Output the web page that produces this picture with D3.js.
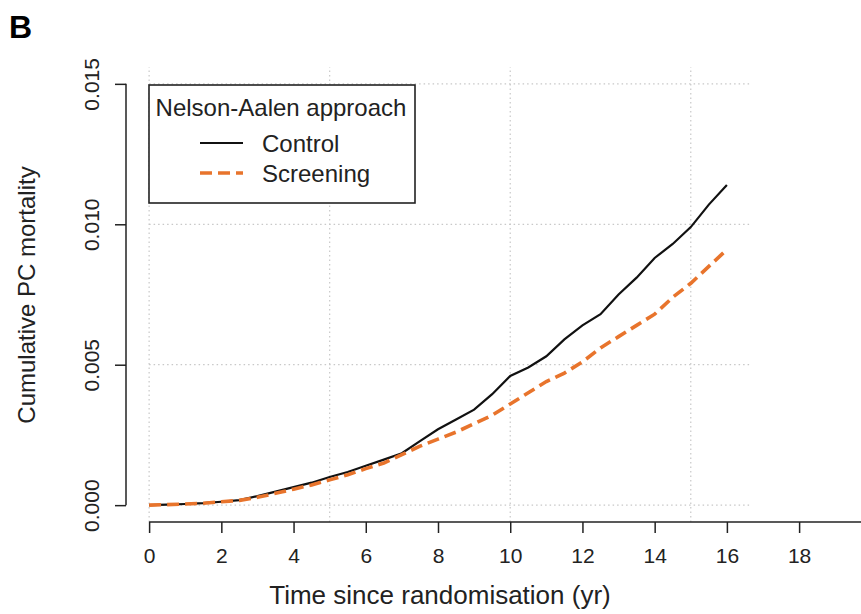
<!DOCTYPE html>
<html>
<head>
<meta charset="utf-8">
<script src="https://cdn.jsdelivr.net/npm/d3@7.9.0/dist/d3.min.js"></script>
<style>
  body { margin: 0; background: #fff; }
  svg { display: block; font-family: "Liberation Sans", Arial, sans-serif; }
</style>
</head>
<body>
<svg id="chart" width="861" height="614"></svg>
<script>
// years since randomisation, read every half year
const years = d3.range(0, 16.5, 0.5);

const controlValues = [
  0, 0.00002, 0.00004, 0.00007, 0.00012, 0.00018, 0.00032, 0.00048,
  0.00064, 0.0008, 0.001, 0.00118, 0.0014, 0.00162, 0.00185, 0.00228,
  0.0027, 0.00305, 0.0034, 0.00395, 0.0046, 0.0049, 0.0053, 0.0059,
  0.0064, 0.0068, 0.0075, 0.0081, 0.0088, 0.0093, 0.0099, 0.0107, 0.0114
];

const screeningValues = [
  0, 0.00002, 0.00004, 0.00007, 0.00012, 0.00017, 0.00028, 0.00042,
  0.00057, 0.00072, 0.0009, 0.00108, 0.0013, 0.0015, 0.0018, 0.0021,
  0.00235, 0.0026, 0.0029, 0.0032, 0.0036, 0.004, 0.0044, 0.0047,
  0.0051, 0.0056, 0.006, 0.0064, 0.0068, 0.0074, 0.0079, 0.0085, 0.0091
];

const xTicks = [0, 2, 4, 6, 8, 10, 12, 14, 16, 18];
const yTicks = [0, 0.005, 0.010, 0.015];
const xGrid = [0, 5, 10, 15];
const seriesNames = ['Control', 'Screening'];

const orange = '#e8742c';
const svg = d3.select('#chart');

// plot region like R: limits padded by 4%
const xScale = d3.scaleLinear().domain([-0.64, 16.64]).range([126, 750]);
const yScale = d3.scaleLinear().domain([-0.0006, 0.0156]).range([522, 67]);

// dotted grid
const grid = svg.append('g')
  .attr('stroke', '#c8c8c8')
  .attr('stroke-width', 1.2)
  .attr('stroke-dasharray', '1.5,3');

grid.selectAll('.vg')
  .data(xGrid)
  .join('line')
  .attr('x1', d => xScale(d))
  .attr('x2', d => xScale(d))
  .attr('y1', yScale.range()[0])
  .attr('y2', yScale.range()[1]);

grid.selectAll('.hg')
  .data(yTicks)
  .join('line')
  .attr('x1', xScale(0))
  .attr('x2', xScale.range()[1])
  .attr('y1', d => yScale(d))
  .attr('y2', d => yScale(d));

// curves
const line = d3.line()
  .x((d, i) => xScale(years[i]))
  .y(d => yScale(d));

svg.append('path')
  .datum(controlValues)
  .attr('fill', 'none')
  .attr('stroke', '#111')
  .attr('stroke-width', 2.2)
  .attr('d', line);

svg.append('path')
  .datum(screeningValues)
  .attr('fill', 'none')
  .attr('stroke', orange)
  .attr('stroke-width', 3.6)
  .attr('stroke-dasharray', '12,6')
  .attr('d', line);

// x axis
const xAxis = svg.append('g')
  .attr('transform', `translate(0, ${yScale.range()[0]})`)
  .call(d3.axisBottom(xScale).tickValues(xTicks).tickSize(11).tickPadding(15).tickSizeOuter(0));
xAxis.select('.domain').remove();
xAxis.append('line')
  .attr('x1', xScale(0)).attr('x2', 861)
  .attr('stroke', '#222').attr('stroke-width', 1.5);
xAxis.selectAll('.tick line').attr('stroke', '#222').attr('stroke-width', 1.5);
xAxis.selectAll('.tick text')
  .attr('fill', '#222')
  .style('font-size', '21px')
  .style('font-family', '"Liberation Sans", Arial, sans-serif');

// y axis
const yAxis = svg.append('g')
  .attr('transform', `translate(${xScale.range()[0]}, 0)`)
  .call(d3.axisLeft(yScale).tickValues(yTicks).tickSize(11).tickFormat(d3.format('.3f')).tickSizeOuter(0));
yAxis.select('.domain').remove();
yAxis.append('line')
  .attr('y1', yScale(0)).attr('y2', yScale(0.015))
  .attr('stroke', '#222').attr('stroke-width', 1.5);
yAxis.selectAll('.tick line').attr('stroke', '#222').attr('stroke-width', 1.5);
yAxis.selectAll('.tick text')
  .attr('fill', '#222')
  .attr('x', null).attr('dy', null)
  .attr('text-anchor', 'middle')
  .attr('transform', 'translate(-27, 0) rotate(-90)')
  .style('font-size', '21px')
  .style('font-family', '"Liberation Sans", Arial, sans-serif');

// axis titles
svg.append('text')
  .attr('x', 440).attr('y', 604)
  .attr('text-anchor', 'middle')
  .attr('fill', '#222')
  .style('font-size', '26px')
  .text('Time since randomisation (yr)');

svg.append('text')
  .attr('transform', 'translate(35, 295) rotate(-90)')
  .attr('text-anchor', 'middle')
  .attr('fill', '#222')
  .style('font-size', '24px')
  .text('Cumulative PC mortality');

// panel letter
svg.append('text')
  .attr('x', 9).attr('y', 38)
  .attr('font-weight', 'bold')
  .style('font-size', '32px')
  .attr('fill', '#000')
  .text('B');

// legend
const legend = svg.append('g');
legend.append('rect')
  .attr('x', 149).attr('y', 85).attr('width', 266).attr('height', 118)
  .attr('fill', '#fff').attr('stroke', '#222').attr('stroke-width', 1.6);
legend.append('text')
  .attr('x', 281).attr('y', 116)
  .attr('text-anchor', 'middle')
  .attr('fill', '#222')
  .style('font-size', '24px')
  .text('Nelson-Aalen approach');

const legendItems = legend.selectAll('.item')
  .data(seriesNames)
  .join('g')
  .attr('transform', (d, i) => `translate(0, ${143 + i * 30})`);

legendItems.append('line')
  .attr('x1', 200).attr('x2', 243)
  .attr('stroke', (d, i) => i === 0 ? '#111' : orange)
  .attr('stroke-width', (d, i) => i === 0 ? 2.2 : 3.6)
  .attr('stroke-dasharray', (d, i) => i === 0 ? null : '12,6');

legendItems.append('text')
  .attr('x', 262).attr('y', 9)
  .attr('fill', '#222')
  .style('font-size', '24px')
  .text(d => d);
</script>
</body>
</html>
